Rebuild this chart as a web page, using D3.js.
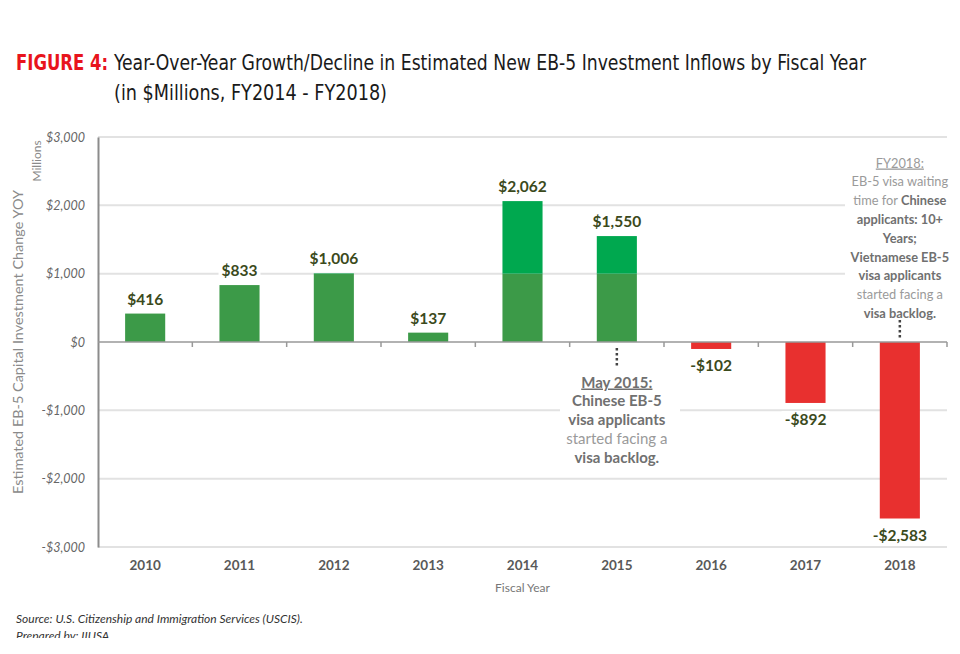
<!DOCTYPE html>
<html>
<head>
<meta charset="utf-8">
<script src="https://cdn.jsdelivr.net/npm/d3@7"></script>
<style>
  body { margin: 0; background: #fff; }
</style>
</head>
<body>
<div class="canvas"></div>
<script>
// chart data
var years = ["2010", "2011", "2012", "2013", "2014", "2015", "2016", "2017", "2018"]
var yoyChange = [416, 833, 1006, 137, 2062, 1550, -102, -892, -2583]
var yTicks = [-3000, -2000, -1000, 0, 1000, 2000, 3000]

var note2015 = [
  [{t: "May 2015:", b: true, u: true}],
  [{t: "Chinese EB-5", b: true}],
  [{t: "visa applicants", b: true}],
  [{t: "started facing a", b: false}],
  [{t: "visa backlog.", b: true}]
]
var note2018 = [
  [{t: "FY2018:", b: false, u: true}],
  [{t: "EB-5 visa waiting", b: false}],
  [{t: "time for ", b: false}, {t: "Chinese", b: true}],
  [{t: "applicants: 10+", b: true}],
  [{t: "Years;", b: true}],
  [{t: "Vietnamese EB-5", b: true}],
  [{t: "visa applicants", b: true}],
  [{t: "started facing a", b: false}],
  [{t: "visa backlog.", b: true}]
]

var W = 960, H = 654
var plotLeft = 98, plotRight = 947, plotTop = 137, plotBottom = 547
var splitAt = 1000   // portion of a bar above this is drawn brighter

var svg = d3.select(".canvas").append("svg").attr("width", W).attr("height", H)

var x = d3.scaleBand().domain(years).range([plotLeft, plotRight])
    .paddingInner(0.575).paddingOuter(0.2875)
var y = d3.scaleLinear().domain([-3000, 3000]).range([plotBottom, plotTop])

var money = function(v) {
  return (v < 0 ? "-$" : "$") + d3.format(",")(Math.abs(v))
}
var chartFont = "Lato, 'Open Sans', sans-serif"
var titleFont = "'Liberation Sans Narrow', 'DejaVu Sans Condensed', sans-serif"

// Title
svg.append("text")
    .attr("x", 16).attr("y", 70)
    .attr("font-family", titleFont)
    .attr("font-weight", "bold")
    .attr("font-size", 21)
    .attr("fill", "#e8141c")
    .attr("textLength", 92).attr("lengthAdjust", "spacingAndGlyphs")
    .text("FIGURE 4:")
svg.append("text")
    .attr("x", 114).attr("y", 70)
    .attr("font-family", titleFont)
    .attr("font-size", 21)
    .attr("fill", "#1a1a1a")
    .attr("textLength", 752).attr("lengthAdjust", "spacingAndGlyphs")
    .text("Year-Over-Year Growth/Decline in Estimated New EB-5 Investment Inflows by Fiscal Year")
svg.append("text")
    .attr("x", 114).attr("y", 100)
    .attr("font-family", titleFont)
    .attr("font-size", 21)
    .attr("fill", "#1a1a1a")
    .attr("textLength", 273).attr("lengthAdjust", "spacingAndGlyphs")
    .text("(in $Millions, FY2014 - FY2018)")

// Gridlines
svg.append("g").selectAll("line")
    .data(yTicks.filter(function(d) { return d != 0 }))
    .join("line")
    .attr("x1", plotLeft).attr("x2", plotRight)
    .attr("y1", function(d) { return y(d) }).attr("y2", function(d) { return y(d) })
    .attr("stroke", "#e2e2e2").attr("stroke-width", 2)

// Y axis
var yAxis = svg.append("g")
    .attr("transform", "translate(" + plotLeft + ",0)")
    .call(d3.axisLeft(y).tickValues(yTicks).tickFormat(money).tickSize(0).tickPadding(13))
yAxis.select(".domain").attr("stroke", "#8c8c8c").attr("stroke-width", 2)
yAxis.selectAll("text")
    .attr("font-family", chartFont).attr("font-style", "italic")
    .attr("font-size", 12.5).attr("fill", "#666")

// Bars
var bars = svg.append("g")
var data = years.map(function(d, i) { return {year: d, v: yoyChange[i]} })
bars.selectAll(".base").data(data).join("rect")
    .attr("class", "base")
    .attr("x", function(d) { return x(d.year) })
    .attr("width", x.bandwidth())
    .attr("y", function(d) { return d.v >= 0 ? y(Math.min(d.v, splitAt)) : y(0) })
    .attr("height", function(d) { return d.v >= 0 ? y(0) - y(Math.min(d.v, splitAt)) : y(d.v) - y(0) })
    .attr("fill", function(d) { return d.v >= 0 ? "#3c9a48" : "#e8302f" })
bars.selectAll(".upper").data(data.filter(function(d) { return d.v > splitAt })).join("rect")
    .attr("class", "upper")
    .attr("x", function(d) { return x(d.year) })
    .attr("width", x.bandwidth())
    .attr("y", function(d) { return y(d.v) })
    .attr("height", function(d) { return y(splitAt) - y(d.v) })
    .attr("fill", "#00a84f")

// Zero line and category ticks
svg.append("line")
    .attr("x1", plotLeft).attr("x2", plotRight)
    .attr("y1", y(0)).attr("y2", y(0))
    .attr("stroke", "#999").attr("stroke-width", 1.5)
svg.append("g").selectAll("line")
    .data(years)
    .join("line")
    .attr("x1", function(d) { return x(d) + x.bandwidth() + x.step() * x.paddingInner() / 2 })
    .attr("x2", function(d) { return x(d) + x.bandwidth() + x.step() * x.paddingInner() / 2 })
    .attr("y1", y(0)).attr("y2", y(0) + 5)
    .attr("stroke", "#999").attr("stroke-width", 1.5)

// Value labels with white backing
var labels = svg.append("g").selectAll("g").data(data).join("g")
    .attr("transform", function(d) {
      var cx = x(d.year) + x.bandwidth() / 2
      var by = d.v >= 0 ? y(d.v) - 9 : y(d.v) + 22
      return "translate(" + cx + "," + by + ")"
    })
labels.append("rect").attr("fill", "#fff")
labels.append("text")
    .attr("text-anchor", "middle")
    .attr("font-family", chartFont).attr("font-weight", "bold")
    .attr("font-size", 15.5).attr("fill", "#3b4a1c")
    .text(function(d) { return money(d.v) })
labels.each(function() {
  var g = d3.select(this)
  var bb = g.select("text").node().getBBox()
  g.select("rect").attr("x", bb.x - 3).attr("y", bb.y + 1)
      .attr("width", bb.width + 6).attr("height", bb.height - 2)
})

// X labels
svg.append("g").selectAll("text").data(years).join("text")
    .attr("x", function(d) { return x(d) + x.bandwidth() / 2 })
    .attr("y", 570)
    .attr("text-anchor", "middle")
    .attr("font-family", chartFont).attr("font-weight", "bold")
    .attr("font-size", 13.5).attr("fill", "#595959")
    .text(function(d) { return d })
svg.append("text")
    .attr("x", (plotLeft + plotRight) / 2).attr("y", 592)
    .attr("text-anchor", "middle")
    .attr("font-family", chartFont)
    .attr("font-size", 12).attr("fill", "#777")
    .text("Fiscal Year")

// Y axis titles
svg.append("text")
    .attr("transform", "translate(23," + y(0) + ") rotate(-90)")
    .attr("text-anchor", "middle")
    .attr("font-family", chartFont)
    .attr("font-size", 13.5).attr("fill", "#8a8a8a")
    .attr("textLength", 304).attr("lengthAdjust", "spacingAndGlyphs")
    .text("Estimated EB-5 Capital Investment Change YOY")
svg.append("text")
    .attr("transform", "translate(41,161) rotate(-90)")
    .attr("text-anchor", "middle")
    .attr("font-family", chartFont)
    .attr("font-size", 12).attr("fill", "#8a8a8a")
    .text("Millions")

// Annotations
function note(lines, cx, firstY, lineH, size, box) {
  svg.append("rect")
      .attr("x", box[0]).attr("y", box[1]).attr("width", box[2]).attr("height", box[3])
      .attr("fill", "#fff")
  lines.forEach(function(parts, i) {
    var t = svg.append("text")
        .attr("x", cx).attr("y", firstY + i * lineH)
        .attr("text-anchor", "middle")
        .attr("font-family", chartFont).attr("font-size", size)
    parts.forEach(function(p) {
      t.append("tspan")
          .attr("font-weight", p.b ? "bold" : "normal")
          .attr("fill", p.b ? "#707070" : "#9a9a9a")
          .attr("text-decoration", p.u ? "underline" : null)
          .text(p.t)
    })
  })
}
note(note2015, x("2015") + x.bandwidth() / 2, 387.5, 18.8, 15, [560, 370, 120, 94])
note(note2018, x("2018") + x.bandwidth() / 2, 167.5, 18.8, 12.8, [845, 150, 105, 172])

// dotted leaders
svg.append("line")
    .attr("x1", x("2015") + x.bandwidth() / 2).attr("x2", x("2015") + x.bandwidth() / 2)
    .attr("y1", y(0) + 6).attr("y2", y(0) + 24)
    .attr("stroke", "#444").attr("stroke-width", 2.5).attr("stroke-dasharray", "2.5,2.5")
svg.append("line")
    .attr("x1", x("2018") + x.bandwidth() / 2).attr("x2", x("2018") + x.bandwidth() / 2)
    .attr("y1", 320).attr("y2", y(0) - 2)
    .attr("stroke", "#444").attr("stroke-width", 2.5).attr("stroke-dasharray", "2.5,2.5")

// Source
svg.append("defs").append("clipPath").attr("id", "srcclip")
    .append("rect").attr("x", 0).attr("y", 600).attr("width", W).attr("height", 38)
var src = svg.append("g").attr("clip-path", "url(#srcclip)")
    .attr("font-family", chartFont).attr("font-style", "italic")
    .attr("font-size", 12).attr("fill", "#333")
src.append("text").attr("x", 16).attr("y", 623)
    .text("Source: U.S. Citizenship and Immigration Services (USCIS).")
src.append("text").attr("x", 16).attr("y", 640)
    .text("Prepared by: IIUSA")
</script>
</body>
</html>
